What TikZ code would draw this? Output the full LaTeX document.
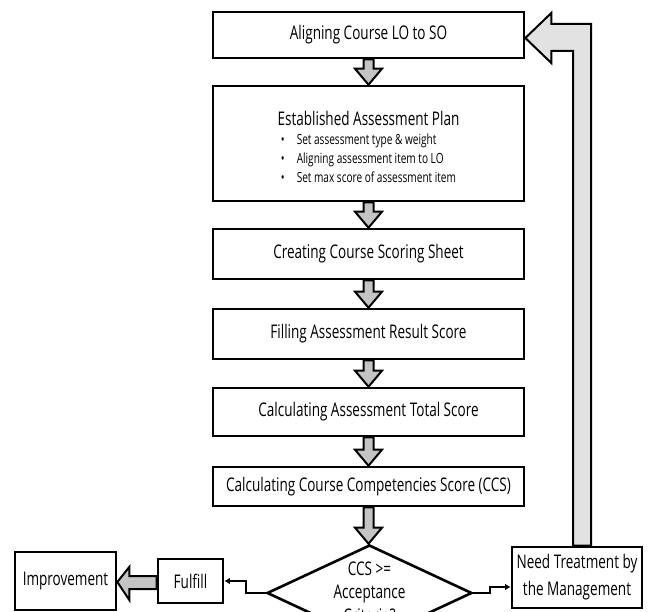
\documentclass[tikz,border=0pt]{standalone}
\usepackage{fontspec}
\setmainfont{Open Sans}[FakeStretch=0.72]
\usetikzlibrary{shapes.geometric,arrows.meta,calc}
\definecolor{arrgray}{HTML}{C4C4C4}
\definecolor{loopgray}{HTML}{E2E2E2}
\newcommand{\blockdown}[2]{%
  \draw[blk] let \p1=(#1.south), \p2=(#2.north) in
    (\x1-5pt,\y1) -- (\x1-5pt,\y2+16pt) -- (\x1-13.5pt,\y2+16pt) -- (\x1,\y2)
    -- (\x1+13.5pt,\y2+16pt) -- (\x1+5pt,\y2+16pt) -- (\x1+5pt,\y1) -- cycle;}
\begin{document}
\begin{tikzpicture}[x=1pt,y=-1pt,
  box/.style={draw, line width=2.6pt, fill=white, inner sep=0pt, minimum width=311pt,
    font=\fontsize{18.8}{22}\selectfont},
  sbox/.style={draw, line width=2.6pt, fill=white, inner sep=0pt,
    font=\fontsize{18.8}{27}\selectfont, align=center},
  decision/.style={draw, line width=2.6pt, fill=white, diamond, aspect=2.1,
    minimum width=205pt, minimum height=96pt, inner sep=0pt},
  dtext/.style={font=\fontsize{18.8}{23.5}\selectfont, align=center, inner sep=0pt},
  blk/.style={draw, line width=2pt, fill=arrgray, line join=miter},
  conn/.style={line width=1.8pt, -{Latex[length=5.5pt,width=6.5pt]}}]
\useasboundingbox (0,0) rectangle (654,612);
\clip (0,0) rectangle (654,612);

\node[box, minimum height=46pt] (a1) at (368.5,35) {Aligning Course LO to SO};
\node[box, minimum height=115pt, align=center] (a2) at (368.5,143.5)
  {\rule{0pt}{27pt}Established Assessment Plan\\[5pt]
   {\fontsize{14}{19}\selectfont
    \begin{tabular}{@{}l@{\hspace{12pt}}l@{}}
    \textbullet & Set assessment type \& weight\\
    \textbullet & Aligning assessment item to LO\\
    \textbullet & Set max score of assessment item
    \end{tabular}}};
\node[box, minimum height=50pt] (a3) at (368.5,254) {Creating Course Scoring Sheet};
\node[box, minimum height=50pt] (a4) at (368.5,334) {Filling Assessment Result Score};
\node[box, minimum height=48pt] (a5) at (368.5,412) {Calculating Assessment Total Score};
\node[box, minimum height=39pt] (a6) at (368.5,486.5) {Calculating Course Competencies Score (CCS)};

\node[decision] (dec) at (369.5,593) {};
\path (dec.center) node[dtext, yshift=1pt] (dect) {CCS >=\\Acceptance\\Criteria?};

\node[sbox, minimum width=101pt, minimum height=58pt] (imp) at (65.5,581) {Improvement};
\node[sbox, minimum width=65pt, minimum height=44pt] (ful) at (190.5,581) {Fulfill};
\node[sbox, minimum width=130pt, minimum height=61pt] (ntm) at (577,577.5)
  {Need Treatment by\\the Management};

\blockdown{a1}{a2}
\blockdown{a2}{a3}
\blockdown{a3}{a4}
\blockdown{a4}{a5}
\blockdown{a5}{a6}
\blockdown{a6}{dec}

% loop arrow back to the top
\draw[blk, fill=loopgray] let \p1=(a1.east), \p2=(ntm.north) in
  (\x1,\y1-3pt) -- (\x1+26pt,\y1+22pt) -- (\x1+26pt,\y1+11pt)
  -- (\x2+14pt,\y1+11pt) -- (\x2+14pt,\y2) -- (\x2-4pt,\y2)
  -- (\x2-4pt,\y1-16pt) -- (\x1+26pt,\y1-16pt) -- (\x1+26pt,\y1-28pt) -- cycle;

% fulfill -> improvement
\draw[blk] let \p1=(ful.west), \p2=(imp.east) in
  (\x2,\y1-1pt) -- (\x2+12pt,\y1+14pt) -- (\x2+12pt,\y1+5pt) -- (\x1,\y1+5pt)
  -- (\x1,\y1-8pt) -- (\x2+12pt,\y1-8pt) -- (\x2+12pt,\y1-19pt) -- cycle;

\draw[conn] (dec.west) -- ++(-20,0) |- (ful.east);
\draw[conn] (dec.east) -- ++(17,0) |- ([yshift=-9.5pt]ntm.west);
\end{tikzpicture}
\end{document}
